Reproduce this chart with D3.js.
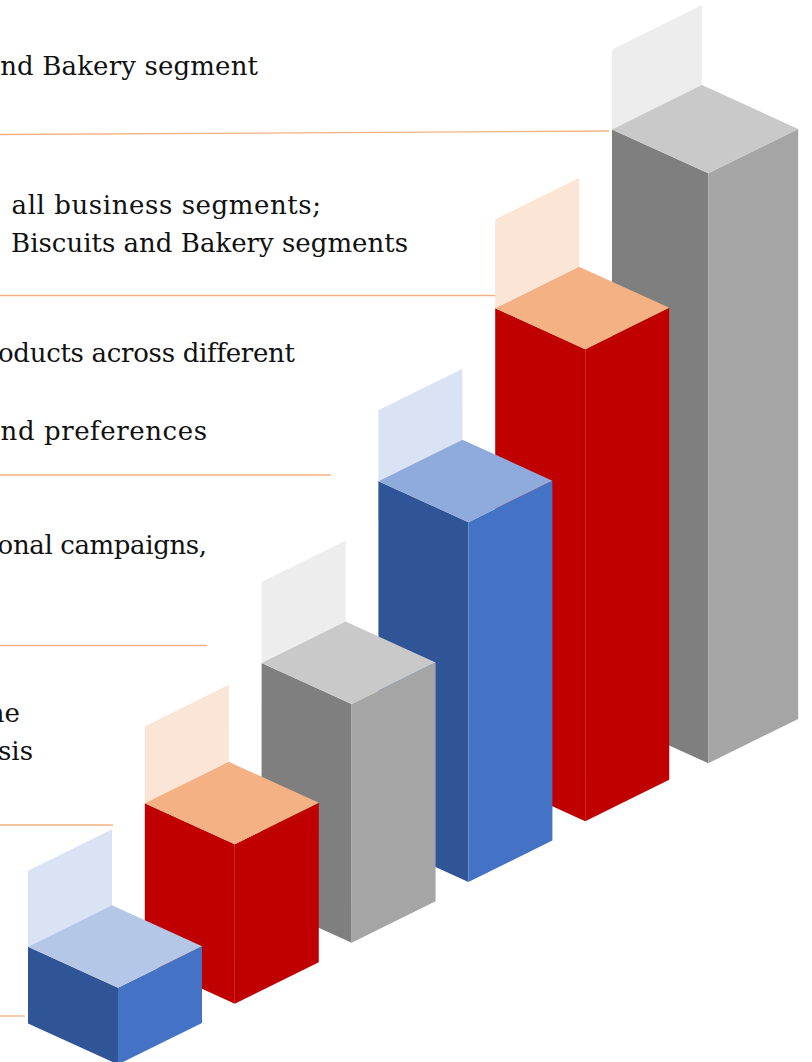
<!DOCTYPE html>
<html>
<head>
<meta charset="utf-8">
<script src="https://cdn.jsdelivr.net/npm/d3@7"></script>
<style>
  html, body { margin: 0; padding: 0; background: #ffffff; overflow: hidden; }
  svg { display: block; }
</style>
</head>
<body>
<svg id="chart" width="812" height="1062"></svg>
<script>
// ---- Data -------------------------------------------------------------
const categories = ["Stage 1", "Stage 2", "Stage 3", "Stage 4", "Stage 5", "Stage 6"];
const values = [13, 27, 40.5, 61, 80, 100];          // relative height index
const seriesColor = ["lightBlue", "red", "gray", "blue", "red", "gray"];

const noteLines = [
  "Market leader in the Biscuits and Bakery segment",
  "Healthy revenue growth across  all business segments;",
  "dominant market share in the  Biscuits and Bakery segments",
  "Wide range of products across different",
  "consumer tastes, needs and preferences",
  "Brand building through promotional campaigns,",
  "Investments in capacity to meet the",
  "growing demand on a sustainable basis"
];

// ---- Layout & styles ----------------------------------------------------
const W = 812, H = 1062;
// right end of each note line, its baseline, and where its visible tail begins
const noteEndX = [258, 321, 408, 295, 207, 207, 20, 33];
const noteBaseY = [75, 214, 252, 362, 440, 554, 722, 760];
const noteTail = ["nd Bakery segment", "all business segments;", "Biscuits and Bakery segments",
                  "oducts across different", "nd preferences", "onal campaigns,", null, null];
const noteTailX = [0, 11, 11, -1, 0, -2, null, null];

const rules = [
  { x1: 609, y0: 134.5, y1: 131 },
  { x1: 497, y0: 295.5, y1: 295.5 },
  { x1: 331, y0: 475, y1: 475 },
  { x1: 207, y0: 645.5, y1: 645.5 },
  { x1: 113, y0: 825, y1: 825 },
  { x1: 25,  y0: 1016, y1: 1016 }
];
const panelHeights = [76, 77, 81, 71, 89, 80];
const barScale = [1, 1, 1, 1, 1, 1.07];

const palette = {
  lightBlue: { left: "#2F5597", right: "#4472C4", top: "#B4C7E7", panel: "#DAE3F3" },
  blue:      { left: "#2F5597", right: "#4472C4", top: "#8FAADC", panel: "#DAE3F3" },
  red:       { left: "#C00000", right: "#C00000", top: "#F4B183", panel: "#FBE5D6" },
  gray:      { left: "#7F7F7F", right: "#A5A5A5", top: "#C9C9C9", panel: "#EDEDED" }
};
const FONT = "'DejaVu Serif', 'Liberation Serif', serif";
const FONT_SIZE = 26;

const svg = d3.select("#chart");

// Scales: bar positions along the receding row, ground line, and heights
const x = d3.scalePoint().domain(categories).range([28, 612]);
const ground = d3.scaleLinear().domain([25, 609]).range([1025, 721]);
const h = d3.scaleLinear().domain([0, 100]).range([0, 590]);

// ---- Separator rules ---------------------------------------------------
svg.append("g").attr("class", "rules")
  .selectAll("line").data(rules).join("line")
  .attr("x1", 0).attr("y1", d => d.y0)
  .attr("x2", d => d.x1).attr("y2", d => d.y1)
  .attr("stroke", "#F4B183").attr("stroke-width", 1.3);

// ---- Notes ---------------------------------------------------------------
// Each line is right-aligned; spacing is tuned so the visible end of the
// line spans the intended width.
const measure = svg.append("text")
  .attr("font-family", FONT).attr("font-size", FONT_SIZE)
  .attr("x", -2000).attr("y", -2000);
function textWidth(s) { measure.text(s); return measure.node().getComputedTextLength(); }

const notes = svg.append("g").attr("class", "notes");
noteLines.forEach((line, i) => {
  let ls = 0;
  if (noteTail[i]) {
    const target = noteEndX[i] - noteTailX[i];
    const w = textWidth(noteTail[i]);
    ls = (target - w) / noteTail[i].length;
  }
  notes.append("text")
    .attr("x", noteEndX[i] + ls)
    .attr("y", noteBaseY[i])
    .attr("text-anchor", "end")
    .attr("font-family", FONT)
    .attr("font-size", FONT_SIZE)
    .attr("letter-spacing", ls.toFixed(3) + "px")
    .attr("xml:space", "preserve")
    .style("white-space", "pre")
    .attr("fill", "#111111")
    .text(line);
});
measure.remove();

// ---- Isometric bars (drawn back to front) ------------------------------
const bars = categories.map((c, i) => {
  const s = barScale[i];
  const A = [90 * s, 41 * s];      // left corner -> front corner
  const B = [84 * s, -41.5 * s];   // front corner -> right corner
  const lx = x(c);
  const hb = h(values[i]);
  const L = [lx, ground(lx) - hb];
  const F = [L[0] + A[0], L[1] + A[1]];
  const R = [F[0] + B[0], F[1] + B[1]];
  const K = [L[0] + B[0], L[1] + B[1]];
  const ph = panelHeights[i];
  const down = p => [p[0], p[1] + hb];
  const up = p => [p[0], p[1] - ph];
  return {
    col: palette[seriesColor[i]],
    panel: [L, up(L), up(K), K],
    left: [L, F, down(F), down(L)],
    right: [F, R, down(R), down(F)],
    top: [L, F, R, K]
  };
});

const poly = pts => "M" + pts.map(p => p[0].toFixed(2) + "," + p[1].toFixed(2)).join("L") + "Z";

const g = svg.append("g").attr("class", "bars");
bars.slice().reverse().forEach(b => {
  const bg = g.append("g");
  bg.append("path").attr("d", poly(b.panel)).attr("fill", b.col.panel);
  bg.append("path").attr("d", poly(b.left)).attr("fill", b.col.left);
  bg.append("path").attr("d", poly(b.right)).attr("fill", b.col.right);
  bg.append("path").attr("d", poly(b.top)).attr("fill", b.col.top);
});
</script>
</body>
</html>
